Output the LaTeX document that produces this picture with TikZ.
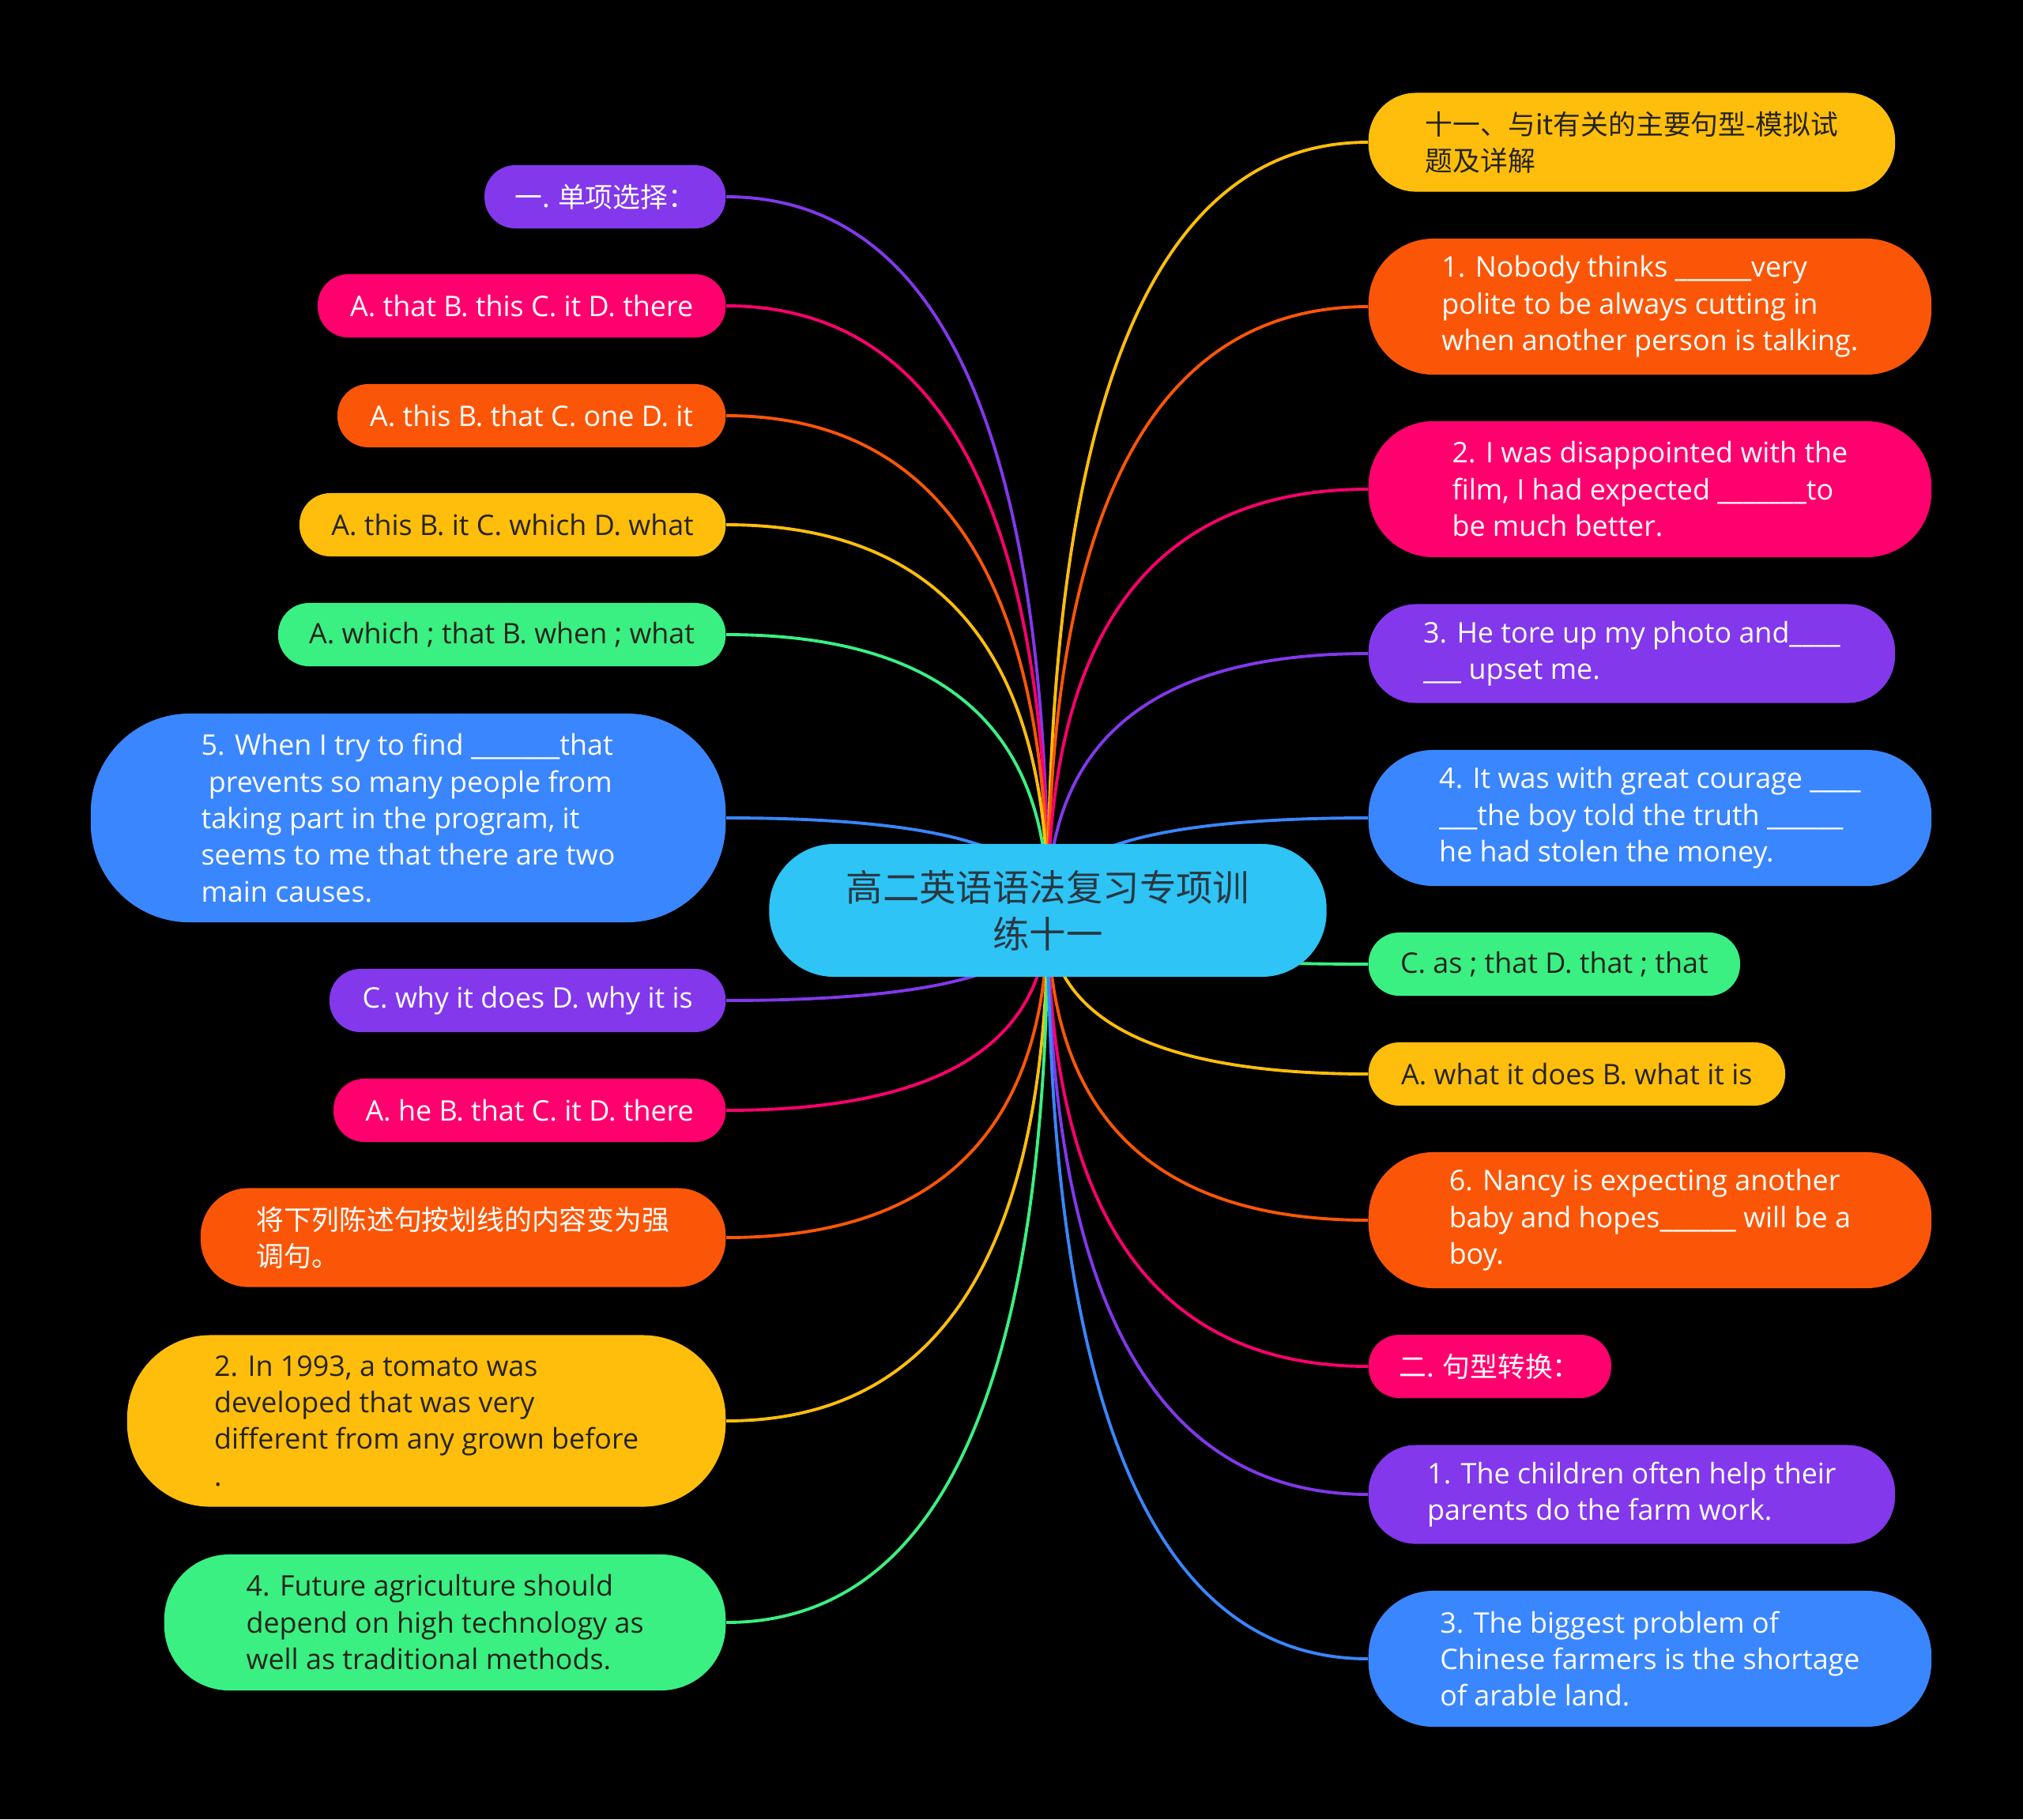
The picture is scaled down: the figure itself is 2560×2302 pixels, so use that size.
\documentclass[tikz,border=0pt]{standalone}
\usepackage{fontspec}
\setmainfont{Open Sans}
\newfontfamily\cjk{Noto Sans CJK SC}
\usetikzlibrary{calc}
\pgfdeclarelayer{bg}
\pgfdeclarelayer{edges}
\pgfsetlayers{bg,edges,main}

\definecolor{cpurple}{RGB}{131,56,236}
\definecolor{cpink}{RGB}{255,0,110}
\definecolor{corange}{RGB}{251,86,7}
\definecolor{cyellow}{RGB}{255,190,11}
\definecolor{cgreen}{RGB}{58,240,130}
\definecolor{cblue}{RGB}{58,134,255}
\definecolor{ccyan}{RGB}{46,196,245}
\definecolor{cdark}{RGB}{38,36,28}
\definecolor{cslate}{RGB}{40,56,66}

\begin{document}
\begin{tikzpicture}[x=0.01cm, y=-0.01cm, font=\fontsize{10.2}{13.2}\selectfont,
  bubble/.style={inner sep=0pt, align=left, text=white},
  purplebox/.style={bubble, fill=cpurple},
  pinkbox/.style={bubble, fill=cpink},
  orangebox/.style={bubble, fill=corange},
  yellowbox/.style={bubble, fill=cyellow, text=cdark},
  greenbox/.style={bubble, fill=cgreen, text=cdark},
  bluebox/.style={bubble, fill=cblue},
  cjktext/.style={font=\cjk\fontsize{9.9}{13.2}\selectfont},
  oneline/.style={minimum height=0.8cm, rounded corners=0.39cm},
  twoline/.style={minimum height=1.25cm, rounded corners=0.6cm},
  threeline/.style={minimum height=1.72cm, rounded corners=0.82cm},
  link/.style={draw=#1, line width=1.1pt}]

\begin{pgfonlayer}{bg}
\fill[black] (0,0) rectangle (2560,2302);
\end{pgfonlayer}

% root
\node[fill=ccyan, text=cslate, align=center, minimum width=7.05cm, minimum height=1.68cm,
  rounded corners=0.82cm, font=\cjk\fontsize{13.2}{16.8}\selectfont] (centre) at (1326,1152)
  {高二英语语法复习专项训\\练十一};

% left branch
\node[purplebox, oneline, cjktext, minimum width=3.05cm, anchor=east] (l1) at (919,249) {一. 单项选择：};
\node[pinkbox, oneline, minimum width=5.16cm, anchor=east] (l2) at (919,387) {A. that B. this C. it D. there};
\node[orangebox, oneline, minimum width=4.91cm, anchor=east] (l3) at (919,526) {A. this B. that C. one D. it};
\node[yellowbox, oneline, minimum width=5.39cm, anchor=east] (l4) at (919,664) {A. this B. it C. which D. what};
\node[greenbox, oneline, minimum width=5.66cm, anchor=east] (l5) at (919,803) {A. which ; that B. when ; what};
\node[bluebox, minimum width=8.03cm, minimum height=2.64cm, rounded corners=1.25cm, anchor=east] (l6) at (919,1035)
  {5. When I try to find \_\_\_\_\_\_\_that\\\ prevents so many people from\\taking part in the program, it\\seems to me that there are two\\main causes.};
\node[purplebox, oneline, minimum width=5.01cm, anchor=east] (l7) at (919,1266) {C. why it does D. why it is};
\node[pinkbox, oneline, minimum width=4.96cm, anchor=east] (l8) at (919,1405) {A. he B. that C. it D. there};
\node[orangebox, twoline, cjktext, minimum width=6.64cm, anchor=east] (l9) at (919,1566) {将下列陈述句按划线的内容变为强\\调句。};
\node[yellowbox, minimum width=7.57cm, minimum height=2.17cm, rounded corners=1.05cm, anchor=east] (l10) at (919,1798)
  {2. In 1993, a tomato was\\developed that was very\\different from any grown before\\.};
\node[greenbox, threeline, minimum width=7.10cm, anchor=east] (l11) at (919,2053)
  {4. Future agriculture should\\depend on high technology as\\well as traditional methods.};

% right branch
\node[yellowbox, twoline, cjktext, minimum width=6.66cm, anchor=west] (r1) at (1731,180) {十一、与it有关的主要句型-模拟试\\题及详解};
\node[orangebox, threeline, minimum width=7.12cm, anchor=west] (r2) at (1731,388)
  {1. Nobody thinks \_\_\_\_\_\_very\\polite to be always cutting in\\when another person is talking.};
\node[pinkbox, threeline, minimum width=7.12cm, anchor=west] (r3) at (1731,619)
  {2. I was disappointed with the\\film, I had expected \_\_\_\_\_\_\_to\\be much better.};
\node[purplebox, twoline, minimum width=6.66cm, anchor=west] (r4) at (1731,827)
  {3. He tore up my photo and\_\_\_\_\\\_\_\_ upset me.};
\node[bluebox, threeline, minimum width=7.12cm, anchor=west] (r5) at (1731,1035)
  {4. It was with great courage \_\_\_\_\\\_\_\_the boy told the truth \_\_\_\_\_\_\\he had stolen the money.};
\node[greenbox, oneline, minimum width=4.70cm, anchor=west] (r6) at (1731,1220) {C. as ; that D. that ; that};
\node[yellowbox, oneline, minimum width=5.27cm, anchor=west] (r7) at (1731,1359) {A. what it does B. what it is};
\node[orangebox, threeline, minimum width=7.12cm, anchor=west] (r8) at (1731,1544)
  {6. Nancy is expecting another\\baby and hopes\_\_\_\_\_\_ will be a\\boy.};
\node[pinkbox, oneline, cjktext, minimum width=3.07cm, anchor=west] (r9) at (1731,1729) {二. 句型转换：};
\node[purplebox, twoline, minimum width=6.66cm, anchor=west] (r10) at (1731,1891)
  {1. The children often help their\\parents do the farm work.};
\node[bluebox, threeline, minimum width=7.12cm, anchor=west] (r11) at (1731,2099)
  {3. The biggest problem of\\Chinese farmers is the shortage\\of arable land.};

% connectors, kept under the nodes
\begin{pgfonlayer}{edges}
\foreach \n/\c in {l1/cpurple, l2/cpink, l3/corange, l4/cyellow, l5/cgreen, l6/cblue,
                   l7/cpurple, l8/cpink, l9/corange, l10/cyellow, l11/cgreen}
  \draw[link=\c] (\n.east) .. controls ($(\n.east)!2/3!(centre.center |- \n.east)$)
    and ($(centre.center)!2/3!(centre.center |- \n.east)$) .. (centre.center);
\foreach \n/\c in {r1/cyellow, r2/corange, r3/cpink, r4/cpurple, r5/cblue, r6/cgreen,
                   r7/cyellow, r8/corange, r9/cpink, r10/cpurple, r11/cblue}
  \draw[link=\c] (\n.west) .. controls ($(\n.west)!2/3!(centre.center |- \n.west)$)
    and ($(centre.center)!2/3!(centre.center |- \n.west)$) .. (centre.center);
\end{pgfonlayer}
\end{tikzpicture}
\end{document}
